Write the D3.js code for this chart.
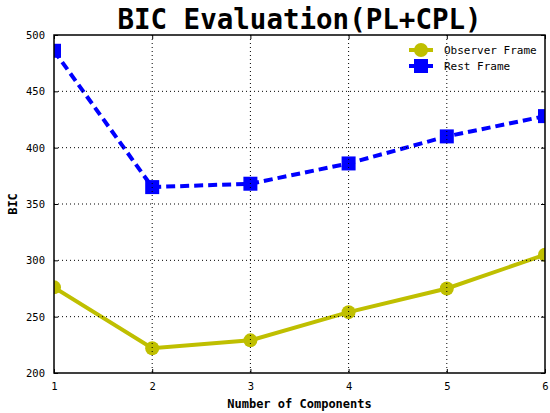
<!DOCTYPE html>
<html><head><meta charset="utf-8">
<script src="https://cdnjs.cloudflare.com/ajax/libs/d3/7.8.5/d3.min.js"></script>
<style>body{margin:0;background:#fff}svg{display:block}</style>
</head><body><svg id="c" width="550" height="413"></svg>
<script>
const components = [1, 2, 3, 4, 5, 6];
const observerFrame = [276, 222, 229, 254, 275, 305];
const restFrame = [486, 365, 368, 386, 410, 428];
const yTicks = [200, 250, 300, 350, 400, 450, 500];
const xTicks = [1, 2, 3, 4, 5, 6];
const seriesNames = ["Observer Frame", "Rest Frame"];

const svg = d3.select("#c");
const L = 54, R = 545, T = 35, B = 373;
const x = d3.scaleLinear().domain([1, 6]).range([L, R]);
const y = d3.scaleLinear().domain([200, 500]).range([B, T]);
const mono = "'DejaVu Sans Mono', monospace";

svg.append("defs").append("clipPath").attr("id", "clip")
  .append("rect").attr("x", L).attr("y", T).attr("width", R - L).attr("height", B - T);

const line = d3.line().x((d, i) => x(components[i])).y(d => y(d));
const yellow = "#bfbf00", blue = "#0000ff";
const plot = svg.append("g").attr("clip-path", "url(#clip)");

plot.append("path").datum(observerFrame).attr("d", line)
  .attr("fill", "none").attr("stroke", yellow).attr("stroke-width", 4);
plot.append("g").selectAll("circle").data(observerFrame).join("circle")
  .attr("cx", (d, i) => x(components[i])).attr("cy", d => y(d)).attr("r", 7).attr("fill", yellow);

plot.append("path").datum(restFrame).attr("d", line)
  .attr("fill", "none").attr("stroke", blue).attr("stroke-width", 4).attr("stroke-dasharray", "9,5");
plot.append("g").selectAll("rect").data(restFrame).join("rect")
  .attr("x", (d, i) => x(components[i]) - 7).attr("y", d => y(d) - 7)
  .attr("width", 14).attr("height", 14).attr("fill", blue);

// grid (drawn above data as in reference)
svg.append("g").selectAll("line").data(xTicks.slice(1, -1)).join("line")
  .attr("x1", d => x(d)).attr("x2", d => x(d)).attr("y1", T).attr("y2", B)
  .attr("stroke", "#000").attr("stroke-width", 1).attr("stroke-dasharray", "1,3");
svg.append("g").selectAll("line").data(yTicks.slice(1, -1)).join("line")
  .attr("y1", d => y(d)).attr("y2", d => y(d)).attr("x1", L).attr("x2", R)
  .attr("stroke", "#000").attr("stroke-width", 1).attr("stroke-dasharray", "1,3");

// axes
const xa = svg.append("g").attr("transform", `translate(0,${B})`)
  .call(d3.axisBottom(x).tickValues(xTicks).tickFormat(d3.format("d")).tickSizeInner(-4).tickSizeOuter(0).tickPadding(10));
const ya = svg.append("g").attr("transform", `translate(${L},0)`)
  .call(d3.axisLeft(y).tickValues(yTicks).tickSizeInner(-4).tickSizeOuter(0).tickPadding(9));
const xt = svg.append("g").attr("transform", `translate(0,${T})`)
  .call(d3.axisTop(x).tickValues(xTicks).tickFormat("").tickSizeInner(-4).tickSizeOuter(0));
const yr = svg.append("g").attr("transform", `translate(${R},0)`)
  .call(d3.axisRight(y).tickValues(yTicks).tickFormat("").tickSizeInner(-4).tickSizeOuter(0));
[xa, ya, xt, yr].forEach(g => {
  g.select(".domain").remove();
  g.selectAll("text").attr("font-family", mono).attr("font-size", 10.5).attr("fill", "#000");
  g.selectAll("line").attr("stroke", "#000");
});

// frame
svg.append("rect").attr("x", L).attr("y", T).attr("width", R - L).attr("height", B - T)
  .attr("fill", "none").attr("stroke", "#000").attr("stroke-width", 1.5);

// legend
const lg = svg.append("g");
[[yellow, "circle"], [blue, "square"]].forEach(([c, m], i) => {
  const yy = 50 + i * 16;
  lg.append("line").attr("x1", 409).attr("x2", 433).attr("y1", yy).attr("y2", yy)
    .attr("stroke", c).attr("stroke-width", 4);
  if (m === "circle") lg.append("circle").attr("cx", 421).attr("cy", yy).attr("r", 7).attr("fill", c);
  else lg.append("rect").attr("x", 414).attr("y", yy - 7).attr("width", 14).attr("height", 14).attr("fill", c);
  lg.append("text").attr("x", 444).attr("y", yy + 3.5).text(seriesNames[i])
    .attr("font-family", mono).attr("font-size", 11).attr("fill", "#000");
});

// titles
svg.append("text").attr("x", (L + R) / 2).attr("y", 29).attr("text-anchor", "middle")
  .attr("font-family", mono).attr("font-weight", "bold").attr("font-size", 27.5).text("BIC Evaluation(PL+CPL)");
svg.append("text").attr("x", (L + R) / 2).attr("y", 408).attr("text-anchor", "middle")
  .attr("font-family", mono).attr("font-weight", "bold").attr("font-size", 12).text("Number of Components");
svg.append("text").attr("transform", `translate(17,${(T + B) / 2}) rotate(-90)`).attr("text-anchor", "middle")
  .attr("font-family", mono).attr("font-weight", "bold").attr("font-size", 12).text("BIC");
</script></body></html>
